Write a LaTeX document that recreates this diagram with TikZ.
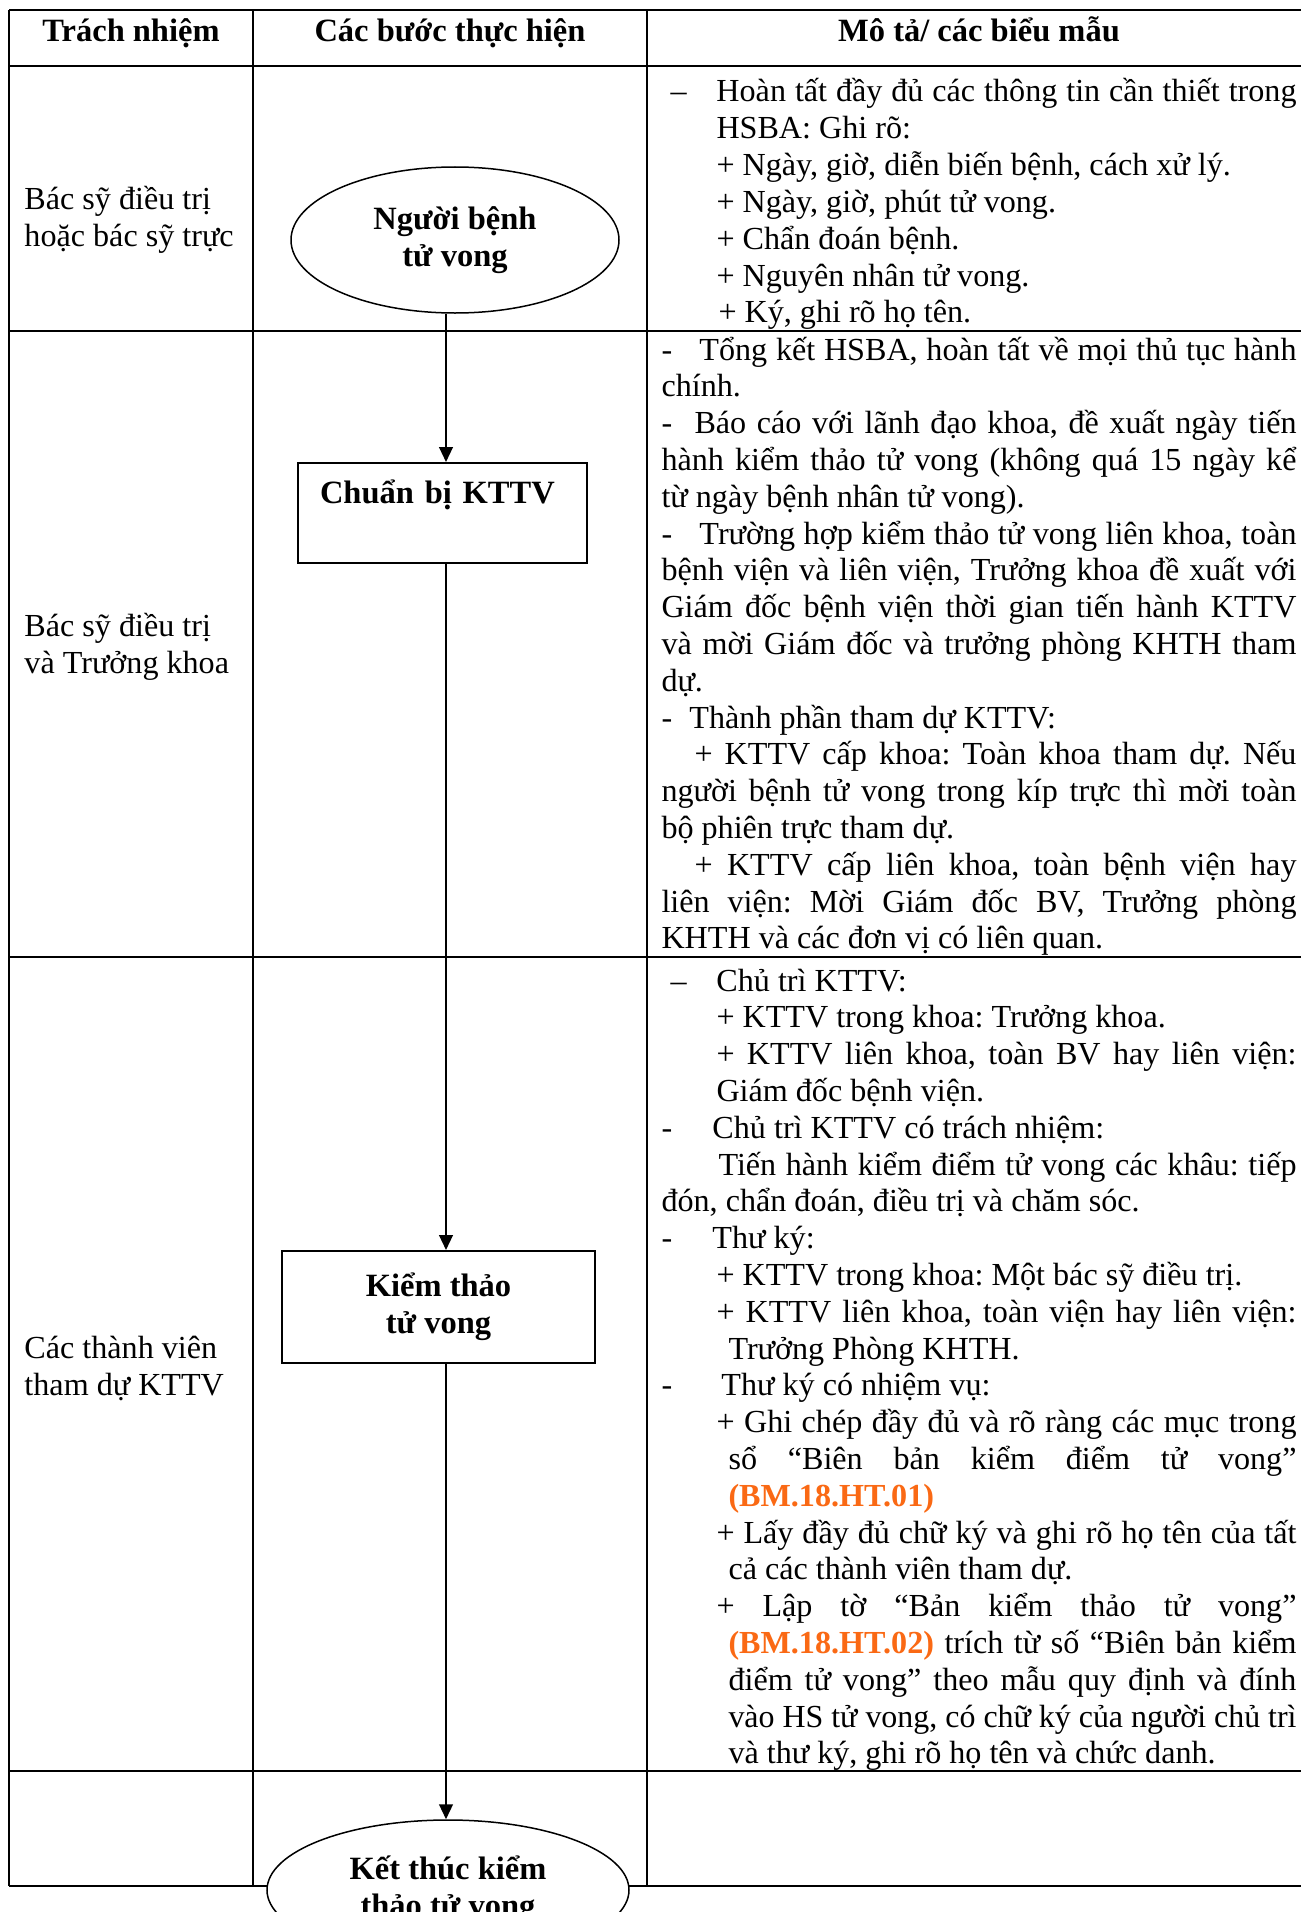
\documentclass[tikz,border=0pt]{standalone}
\usepackage{fontspec}
\setmainfont{Liberation Serif}
\usepackage{xcolor}
\usepackage{graphicx}
\definecolor{formorange}{RGB}{250,105,20}
\usepackage{tikz}
\usetikzlibrary{
    shapes.geometric,
    arrows.meta,
    positioning,
    calc
}

\newsavebox{\linebox}
\newlength{\linew}
\newcommand{\jline}[2]{\hspace*{#1}\setlength{\linew}{\dimexpr254pt-#1\relax}%
    \sbox{\linebox}{#2}%
    \ifdim\wd\linebox>\linew
        \resizebox{\linew}{\height}{\usebox{\linebox}}%
    \else
        \makebox[\linew][s]{#2}%
    \fi}
\newcommand{\dashto}[2]{\makebox[#1][l]{#2}}
\newcommand{\formref}[1]{\textcolor{formorange}{\textbf{#1}}}
\newcommand{\boldtext}{\fontsize{13pt}{14.72pt}\selectfont\bfseries}
\newcommand{\fontsp}{\spaceskip=0pt\xspaceskip=0pt\relax}

\begin{document}
\fontsize{12.85pt}{14.72pt}\selectfont\frenchspacing
\begin{tikzpicture}[
    x=0.4pt, y=-0.4pt,
    >={Triangle[length=6pt, width=5.5pt]},
    grid/.style={line width=0.9pt},
    head/.style={font=\boldtext, anchor=base, inner sep=0pt},
    who/.style={anchor=base west, align=left, inner sep=0pt},
    desc/.style={anchor=base west, text width=254pt, align=left, inner sep=0pt},
    terminal/.style={ellipse, draw, line width=0.6pt, fill=white, font=\boldtext, align=center, inner sep=0pt},
    stepbox/.style={draw, line width=0.8pt, fill=white, font=\boldtext, inner sep=0pt},
    flow/.style={->, line width=0.8pt}
]
\useasboundingbox (0,0) rectangle (1300,1912);

% ==================== TABLE GRID ====================
\foreach \y in {10, 66, 331, 957, 1771, 1886} {
    \draw[grid] (9,\y) -- (1311,\y);
}
\foreach \x in {9, 253, 647, 1311} {
    \draw[grid] (\x,10) -- (\x,1886);
}

% ==================== HEADER ====================
\node[head] (hresp) at (131,42) {Trách nhiệm};
\node[head] (hstep) at (450,42) {Các bước thực hiện};
\node[head] (hdesc) at (979,42) {Mô tả/ các biểu mẫu};

% ==================== RESPONSIBILITY ====================
\node[who] (resp1) at (24,246) {Bác sỹ điều trị\\hoặc bác sỹ trực};
\node[who] (resp2) at (24,673) {Bác sỹ điều trị\\và Trưởng khoa};
\node[who] (resp3) at (24,1395) {Các thành viên\\tham dự KTTV};

% ==================== FLOW ====================
\coordinate (axis) at (446,0);
\node[terminal, minimum width=131.2pt, minimum height=58.4pt] (death) at (455,240) {Người bệnh\\tử vong};
\node[stepbox, text width=98pt, inner xsep=8.8pt, align=left, text height=16pt, text depth=24pt] (prep) at (442.5,513) {Chuẩn bị KTTV};
\node[stepbox, align=center, minimum width=125.2pt, minimum height=44.8pt] (review) at (438.5,1307) {Kiểm thảo\\tử vong};
\node[terminal, minimum width=144.8pt, minimum height=56pt] (finish) at (448,1890) {Kết thúc kiểm\\thảo tử vong};

\draw[flow] (death.south -| axis) -- (prep.north -| axis);
\draw[flow] (prep.south -| axis) -- (review.north -| axis);
\draw[flow] (review.south -| axis) -- (finish.north -| axis);

% ==================== DESCRIPTION ====================
\node[desc] (desc1) at (661,102) {\fontsp
\jline{3.6pt}{\dashto{18.4pt}{–}Hoàn tất đầy đủ các thông tin cần thiết trong}\\
\hspace*{22pt}HSBA: Ghi rõ:\\
\hspace*{22pt}+ Ngày, giờ, diễn biến bệnh, cách xử lý.\\
\hspace*{22pt}+ Ngày, giờ, phút tử vong.\\
\hspace*{22pt}+ Chẩn đoán bệnh.\\
\hspace*{22pt}+ Nguyên nhân tử vong.\\
\hspace*{22.8pt}+ Ký, ghi rõ họ tên.
};

\node[desc] (desc2) at (661,360) {\fontsp
\jline{0pt}{\dashto{15.2pt}{-}Tổng kết HSBA, hoàn tất về mọi thủ tục hành}\\
chính.\\
\jline{0pt}{\dashto{13.2pt}{-}Báo cáo với lãnh đạo khoa, đề xuất ngày tiến}\\
\jline{0pt}{hành kiểm thảo tử vong (không quá 15 ngày kể}\\
từ ngày bệnh nhân tử vong).\\
\jline{0pt}{\dashto{15.2pt}{-}Trường hợp kiểm thảo tử vong liên khoa, toàn}\\
\jline{0pt}{bệnh viện và liên viện, Trưởng khoa đề xuất với}\\
\jline{0pt}{Giám đốc bệnh viện thời gian tiến hành KTTV}\\
\jline{0pt}{và mời Giám đốc và trưởng phòng KHTH tham}\\
dự.\\
\dashto{11.2pt}{-}Thành phần tham dự KTTV:\\
\jline{13.2pt}{+ KTTV cấp khoa: Toàn khoa tham dự. Nếu}\\
\jline{0pt}{người bệnh tử vong trong kíp trực thì mời toàn}\\
bộ phiên trực tham dự.\\
\jline{13.2pt}{+ KTTV cấp liên khoa, toàn bệnh viện hay}\\
\jline{0pt}{liên viện: Mời Giám đốc BV, Trưởng phòng}\\
KHTH và các đơn vị có liên quan.
};

\node[desc] (desc3) at (661,991) {\fontsp
\hspace*{3.6pt}\dashto{18.4pt}{–}Chủ trì KTTV:\\
\hspace*{22pt}+ KTTV trong khoa: Trưởng khoa.\\
\jline{22pt}{+ KTTV liên khoa, toàn BV hay liên viện:}\\
\hspace*{22pt}Giám đốc bệnh viện.\\
\dashto{20.4pt}{-}Chủ trì KTTV có trách nhiệm:\\
\jline{22.8pt}{Tiến hành kiểm điểm tử vong các khâu: tiếp}\\
đón, chẩn đoán, điều trị và chăm sóc.\\
\dashto{20.4pt}{-}Thư ký:\\
\hspace*{22pt}+ KTTV trong khoa: Một bác sỹ điều trị.\\
\jline{22pt}{+ KTTV liên khoa, toàn viện hay liên viện:}\\
\hspace*{26.8pt}Trưởng Phòng KHTH.\\
\dashto{24pt}{-}Thư ký có nhiệm vụ:\\
\jline{22pt}{+ Ghi chép đầy đủ và rõ ràng các mục trong}\\
\jline{26.8pt}{sổ “Biên bản kiểm điểm tử vong”}\\
\hspace*{26.8pt}\formref{(BM.18.HT.01)}\\
\jline{22pt}{+ Lấy đầy đủ chữ ký và ghi rõ họ tên của tất}\\
\hspace*{26.8pt}cả các thành viên tham dự.\\
\jline{22pt}{+ Lập tờ “Bản kiểm thảo tử vong”}\\
\jline{26.8pt}{\formref{(BM.18.HT.02)} trích từ số “Biên bản kiểm}\\
\jline{26.8pt}{điểm tử vong” theo mẫu quy định và đính}\\
\jline{26.8pt}{vào HS tử vong, có chữ ký của người chủ trì}\\
\hspace*{26.8pt}và thư ký, ghi rõ họ tên và chức danh.
};

\end{tikzpicture}
\end{document}
